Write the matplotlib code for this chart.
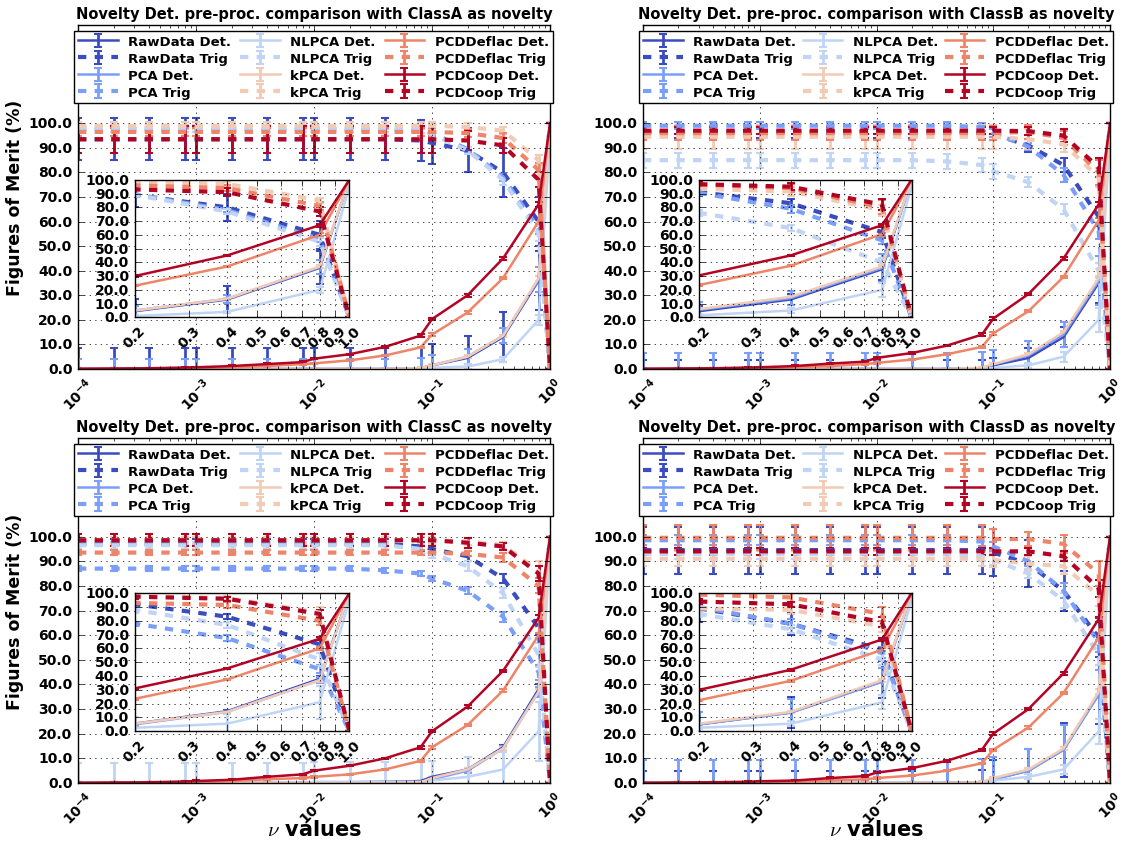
import matplotlib

matplotlib.use("Agg")
import matplotlib.pyplot as plt
import numpy as np
from matplotlib.ticker import FormatStrFormatter, NullLocator

# nu values (x axis)
NU = [1e-4, 2e-4, 4e-4, 8e-4, 1e-3, 2e-3, 4e-3, 8e-3, 1e-2, 2e-2, 4e-2, 8e-2, 0.1, 0.2, 0.4, 0.8, 1.0]
METHODS = ["RawData", "PCA", "NLPCA", "kPCA", "PCDDeflac", "PCDCoop"]
CLASSES = ["ClassA", "ClassB", "ClassC", "ClassD"]
INSET_TICKS = [0.2, 0.3, 0.4, 0.5, 0.6, 0.7, 0.8, 0.9, 1.0]

# ---- ClassA ----
a_raw_det = [0, 0, 0, 0, 0, 0, 0, 0, 0, 0, 0, 0.3, 1.5, 4.5, 13, 36, 100]
a_raw_det_err = [8.5, 8.5, 8.5, 8.5, 8.5, 8.5, 8.5, 8.5, 8.5, 8.5, 8.5, 8.5, 8.5, 9, 10, 12, 0]
a_pca_det = [0, 0, 0, 0, 0, 0, 0, 0, 0, 0, 0, 0.3, 1.5, 5, 13.5, 36.5, 100]
a_pca_det_err = [4, 4, 4, 4, 4, 4, 4, 4, 4, 4, 4, 4, 4, 3, 3, 5, 0]
a_nlpca_det = [0, 0, 0, 0, 0, 0, 0, 0, 0, 0, 0, 0, 0.5, 1, 4, 20, 95]
a_nlpca_det_err = [0, 0, 0, 0, 0, 0, 0, 0, 0, 0, 0, 0, 0, 1, 1, 2, 0]
a_kpca_det = [0, 0, 0, 0, 0, 0, 0, 0, 0, 0, 0, 0.3, 1.5, 5, 13.5, 37, 100]
a_kpca_det_err = [0.5, 0.5, 0.5, 0.5, 0.5, 0.5, 0.5, 0.5, 0.5, 0.5, 0.5, 0.5, 0.5, 0.5, 0.5, 1, 0]
a_deflac_det = [0, 0, 0, 0, 0.3, 0.7, 1.2, 2.0, 2.3, 3.5, 5.5, 8.8, 14, 23, 37, 60, 100]
a_deflac_det_err = [0.3, 0.3, 0.3, 0.3, 0.3, 0.3, 0.3, 0.3, 0.3, 0.3, 0.3, 0.3, 0.5, 0.5, 0.5, 1, 0]
a_coop_det = [0.1, 0.2, 0.3, 0.6, 0.7, 1.2, 2.0, 2.8, 4.2, 6.0, 9.0, 13.6, 20.3, 30, 45, 67, 100]
a_coop_det_err = [0.3, 0.3, 0.3, 0.3, 0.3, 0.3, 0.3, 0.3, 0.3, 0.3, 0.3, 0.5, 0.5, 0.5, 0.5, 1, 0]

a_raw_trig = [93.5, 93.5, 93.5, 93.5, 93.5, 93.5, 93.5, 93.5, 93.5, 93.5, 93.5, 93, 92, 89, 80, 60, 0]
a_raw_trig_err = [8.5, 8.5, 8.5, 8.5, 8.5, 8.5, 8.5, 8.5, 8.5, 8.5, 8.5, 8.5, 8.5, 9, 10, 10, 0]
a_pca_trig = [97.5, 97.5, 97.5, 97.5, 97.5, 97.5, 97.5, 97.5, 97.5, 97.5, 97.5, 97, 96, 89.5, 78, 57, 0]
a_pca_trig_err = [1, 1, 1, 1, 1, 1, 1, 1, 1, 1, 1, 1, 1, 1, 1.5, 2, 0]
a_nlpca_trig = [98, 98, 98, 98, 98, 98, 98, 98, 98, 98, 98, 97.5, 95.5, 89, 77, 55, 0]
a_nlpca_trig_err = [1.5, 1.5, 1.5, 1.5, 1.5, 1.5, 1.5, 1.5, 1.5, 1.5, 1.5, 1.5, 1.5, 1.5, 2, 3, 0]
a_kpca_trig = [99, 99, 99, 99, 99, 99, 99, 99, 99, 99, 99, 99, 99, 98.5, 97, 85, 0]
a_kpca_trig_err = [1.5, 1.5, 1.5, 1.5, 1.5, 1.5, 1.5, 1.5, 1.5, 1.5, 1.5, 1.5, 1.5, 1.5, 1.5, 2, 0]
a_deflac_trig = [96.5, 96.5, 96.5, 96.5, 96.5, 96.5, 96.5, 96.5, 96.5, 96.5, 96.5, 96.5, 96.5, 96, 94, 81, 0]
a_deflac_trig_err = [1.5, 1.5, 1.5, 1.5, 1.5, 1.5, 1.5, 1.5, 1.5, 1.5, 1.5, 1.5, 1.5, 1.5, 2, 3, 0]
a_coop_trig = [93.5, 93.5, 93.5, 93.5, 93.5, 93.5, 93.5, 93.5, 93.5, 93.5, 93.5, 93.5, 93.5, 93, 91, 77, 0]
a_coop_trig_err = [5.5, 5.5, 5.5, 5.5, 5.5, 5.5, 5.5, 5.5, 5.5, 5.5, 5.5, 5.5, 5.5, 4, 3, 3, 0]

# ---- ClassB ----
b_raw_det = [0, 0, 0, 0, 0, 0, 0, 0, 0, 0, 0, 0.3, 1.5, 4.5, 13, 35, 100]
b_raw_det_err = [3.5, 3.5, 3.5, 3.5, 3.5, 3.5, 3.5, 3.5, 3.5, 3.5, 3.5, 3.5, 3, 4, 4, 8, 0]
b_pca_det = [0, 0, 0, 0, 0, 0, 0, 0, 0, 0, 0, 0.3, 1.8, 5.5, 14, 36, 100]
b_pca_det_err = [6.5, 6.5, 6.5, 6.5, 6.5, 6.5, 6.5, 6.5, 6.5, 6.5, 6.5, 6.5, 6, 6, 5, 10, 0]
b_nlpca_det = [0, 0, 0, 0, 0, 0, 0, 0, 0, 0, 0, 0, 0.5, 1.5, 5, 20, 95]
b_nlpca_det_err = [0, 0, 0, 0, 0, 0, 0, 0, 0, 0, 0, 0, 0, 1, 2, 5, 0]
b_kpca_det = [0, 0, 0, 0, 0, 0, 0, 0, 0, 0, 0, 0.5, 2, 6, 15, 37, 100]
b_kpca_det_err = [0.5, 0.5, 0.5, 0.5, 0.5, 0.5, 0.5, 0.5, 0.5, 0.5, 0.5, 0.5, 0.5, 0.5, 0.5, 1, 0]
b_deflac_det = [0, 0, 0, 0, 0.3, 0.7, 1.2, 2.0, 2.5, 3.8, 6, 9, 14.5, 23.5, 37.5, 60.5, 100]
b_deflac_det_err = [0.3, 0.3, 0.3, 0.3, 0.3, 0.3, 0.3, 0.3, 0.3, 0.3, 0.3, 0.3, 0.5, 0.5, 0.5, 1, 0]
b_coop_det = [0.1, 0.2, 0.3, 0.6, 0.7, 1.2, 2.2, 3.0, 4.5, 6.5, 9.5, 14, 20.5, 30.5, 45, 67, 100]
b_coop_det_err = [0.3, 0.3, 0.3, 0.3, 0.3, 0.3, 0.3, 0.3, 0.3, 0.3, 0.3, 0.5, 0.5, 0.5, 0.5, 1, 0]

b_raw_trig = [96.5, 96.5, 96.5, 96.5, 96.5, 96.5, 96.5, 96.5, 96.5, 96.5, 96.5, 96, 95.5, 91, 83, 62, 0]
b_raw_trig_err = [2.5, 2.5, 2.5, 2.5, 2.5, 2.5, 2.5, 2.5, 2.5, 2.5, 2.5, 2.5, 2.5, 2.5, 3, 4, 0]
b_pca_trig = [99, 99, 99, 99, 99, 99, 99, 99, 99, 99, 99, 98.5, 96, 90.5, 79, 56, 0]
b_pca_trig_err = [1.5, 1.5, 1.5, 1.5, 1.5, 1.5, 1.5, 1.5, 1.5, 1.5, 1.5, 1.5, 1.5, 1.5, 3, 3, 0]
b_nlpca_trig = [85, 85, 85, 85, 85, 85, 85, 85, 85, 85, 84.5, 83, 80.5, 76, 65, 40, 0]
b_nlpca_trig_err = [3, 3, 3, 3, 3, 3, 3, 3, 3, 3, 3, 3, 3, 2, 2, 3, 0]
b_kpca_trig = [94.5, 94.5, 94.5, 94.5, 94.5, 94.5, 94.5, 94.5, 94.5, 94.5, 94.5, 94.5, 94.5, 93.5, 91.5, 78, 0]
b_kpca_trig_err = [5, 5, 5, 5, 5, 5, 5, 5, 5, 5, 5, 5, 5, 4, 3, 4, 0]
b_deflac_trig = [96, 96, 96, 96, 96, 96, 96, 96, 96, 96, 96, 96, 96, 96.5, 94, 80, 0]
b_deflac_trig_err = [3, 3, 3, 3, 3, 3, 3, 3, 3, 3, 3, 3, 3, 3, 3, 5, 0]
b_coop_trig = [97, 97, 97, 97, 97, 97, 97, 97, 97, 97, 97, 97, 97, 96.8, 95, 82, 0]
b_coop_trig_err = [1.5, 1.5, 1.5, 1.5, 1.5, 1.5, 1.5, 1.5, 1.5, 1.5, 1.5, 1.5, 1.5, 1.5, 2.5, 4, 0]

# ---- ClassC ----
c_raw_det = [0, 0, 0, 0, 0, 0, 0, 0, 0, 0.3, 0.5, 0.8, 2.5, 5.5, 14.5, 38, 100]
c_raw_det_err = [0, 0, 0, 0, 0, 0, 0, 0, 0, 0, 0, 0, 0, 0, 1, 2, 0]
c_pca_det = [0, 0, 0, 0, 0, 0, 0, 0, 0, 0, 0, 0.3, 1.5, 5, 14, 37, 100]
c_pca_det_err = [0, 0, 0, 0, 0, 0, 0, 0, 0, 0, 0, 0, 0, 1, 1, 2, 0]
c_nlpca_det = [0, 0, 0, 0, 0, 0, 0, 0, 0.5, 0.5, 0.5, 0.5, 1, 2.5, 5.5, 21, 95]
c_nlpca_det_err = [8, 8, 8, 8, 8, 8, 8, 8, 8, 8, 8, 8, 8, 8, 7, 12, 0]
c_kpca_det = [0, 0, 0, 0, 0, 0, 0, 0, 0, 0, 0, 0.3, 2, 5.5, 14, 37, 100]
c_kpca_det_err = [0.5, 0.5, 0.5, 0.5, 0.5, 0.5, 0.5, 0.5, 0.5, 0.5, 0.5, 0.5, 0.5, 0.5, 0.5, 1, 0]
c_deflac_det = [0, 0, 0, 0, 0.3, 0.8, 1.5, 2.0, 2.5, 3.5, 5.5, 9, 14.5, 23.5, 37.5, 60, 100]
c_deflac_det_err = [0.3, 0.3, 0.3, 0.3, 0.3, 0.3, 0.3, 0.3, 0.3, 0.3, 0.3, 0.3, 0.5, 0.5, 0.5, 1, 0]
c_coop_det = [0.1, 0.2, 0.3, 0.6, 0.8, 1.3, 2.5, 3.5, 5, 7, 10, 14.5, 21, 31, 45.5, 67, 100]
c_coop_det_err = [0.3, 0.3, 0.3, 0.3, 0.3, 0.3, 0.3, 0.3, 0.3, 0.3, 0.3, 0.5, 0.5, 0.5, 0.5, 1, 0]

c_raw_trig = [97, 97, 97, 97, 97, 97, 97, 97, 97, 97, 97, 96, 95, 92, 83, 63, 0]
c_raw_trig_err = [2, 2, 2, 2, 2, 2, 2, 2, 2, 2, 2, 2, 2, 2, 2, 3, 0]
c_pca_trig = [87, 87, 87, 87, 87, 87, 87, 87, 87, 87, 86.3, 85, 83, 78, 67.5, 45, 0]
c_pca_trig_err = [1, 1, 1, 1, 1, 1, 1, 1, 1, 1, 1, 1, 1, 1.5, 2, 3, 0]
c_nlpca_trig = [96.5, 96.5, 96.5, 96.5, 96.5, 96.5, 96.5, 96.5, 96.5, 96.5, 96.5, 95, 93, 88, 77, 52, 0]
c_nlpca_trig_err = [1.5, 1.5, 1.5, 1.5, 1.5, 1.5, 1.5, 1.5, 1.5, 1.5, 1.5, 1.5, 1.5, 2, 2, 5, 0]
c_kpca_trig = [98.5, 98.5, 98.5, 98.5, 98.5, 98.5, 98.5, 98.5, 98.5, 98.5, 98.5, 98.5, 98.5, 98, 96.5, 86, 0]
c_kpca_trig_err = [1.5, 1.5, 1.5, 1.5, 1.5, 1.5, 1.5, 1.5, 1.5, 1.5, 1.5, 1.5, 1.5, 1.5, 1.5, 4, 0]
c_deflac_trig = [93.5, 93.5, 93.5, 93.5, 93.5, 93.5, 93.5, 93.5, 93.5, 93.5, 93.5, 93.5, 93.5, 93, 91.5, 80, 0]
c_deflac_trig_err = [1, 1, 1, 1, 1, 1, 1, 1, 1, 1, 1, 1, 1, 1, 2, 3, 0]
c_coop_trig = [98.5, 98.5, 98.5, 98.5, 98.5, 98.5, 98.5, 98.5, 98.5, 98.5, 98.5, 98.5, 98.5, 97.5, 96, 85, 0]
c_coop_trig_err = [2.5, 2.5, 2.5, 2.5, 2.5, 2.5, 2.5, 2.5, 2.5, 2.5, 2.5, 2.5, 2.5, 2, 1.5, 3, 0]

# ---- ClassD ----
d_raw_det = [0, 0, 0, 0, 0, 0, 0, 0, 0, 0, 0, 0.3, 1.5, 5, 13.5, 36, 100]
d_raw_det_err = [5, 5, 5, 5, 5, 5, 5, 5, 5, 5, 5, 5, 8, 9, 11, 12, 0]
d_pca_det = [0, 0, 0, 0, 0, 0, 0, 0, 0, 0, 0, 0.3, 1.5, 5, 13.5, 36, 100]
d_pca_det_err = [9.5, 9.5, 9.5, 9.5, 9.5, 9.5, 9.5, 9.5, 9.5, 9.5, 9.5, 9.5, 9, 9, 10, 10, 0]
d_nlpca_det = [0, 0, 0, 0, 0, 0, 0, 0, 0, 0, 0, 0, 1, 2.5, 5.5, 21, 95]
d_nlpca_det_err = [0, 0, 0, 0, 0, 0, 0, 0, 0, 0, 0, 0, 0, 1, 2, 5, 0]
d_kpca_det = [0, 0, 0, 0, 0, 0, 0, 0, 0, 0, 0, 0.3, 2, 5.5, 14, 37, 100]
d_kpca_det_err = [0.5, 0.5, 0.5, 0.5, 0.5, 0.5, 0.5, 0.5, 0.5, 0.5, 0.5, 0.5, 0.5, 0.5, 0.5, 1, 0]
d_deflac_det = [0, 0, 0, 0, 0.2, 0.5, 1.0, 1.5, 2, 3, 5, 8, 13.5, 22.5, 36.5, 59, 100]
d_deflac_det_err = [0.3, 0.3, 0.3, 0.3, 0.3, 0.3, 0.3, 0.3, 0.3, 0.3, 0.3, 0.3, 0.5, 0.5, 0.5, 1, 0]
d_coop_det = [0.1, 0.2, 0.3, 0.5, 0.7, 1.0, 2.0, 2.8, 4.2, 6.0, 9.0, 13.5, 20, 30, 44.5, 66.5, 100]
d_coop_det_err = [0.3, 0.3, 0.3, 0.3, 0.3, 0.3, 0.3, 0.3, 0.3, 0.3, 0.3, 0.5, 0.5, 0.5, 0.5, 1, 0]

d_raw_trig = [94.5, 94.5, 94.5, 94.5, 94.5, 94.5, 94.5, 94.5, 94.5, 94.5, 94.5, 94.5, 93.5, 89, 78, 59, 0]
d_raw_trig_err = [9.5, 9.5, 9.5, 9.5, 9.5, 9.5, 9.5, 9.5, 9.5, 9.5, 9.5, 9.5, 9.5, 9.5, 8, 8, 0]
d_pca_trig = [98.5, 98.5, 98.5, 98.5, 98.5, 98.5, 98.5, 98.5, 98.5, 98.5, 98.5, 98, 96, 90, 78, 57, 0]
d_pca_trig_err = [2, 2, 2, 2, 2, 2, 2, 2, 2, 2, 2, 2, 2, 2, 3, 4, 0]
d_nlpca_trig = [93, 93, 93, 93, 93, 93, 93, 93, 93, 93, 93, 92, 90.5, 85, 74, 52, 0]
d_nlpca_trig_err = [2, 2, 2, 2, 2, 2, 2, 2, 2, 2, 2, 2, 2, 2, 3, 4, 0]
d_kpca_trig = [91, 91, 91, 91, 91, 91, 91, 91, 91, 91, 91, 91, 90.5, 89, 88, 76, 0]
d_kpca_trig_err = [3, 3, 3, 3, 3, 3, 3, 3, 3, 3, 3, 3, 3, 3, 3, 4, 0]
d_deflac_trig = [99.5, 99.5, 99.5, 99.5, 99.5, 99.5, 99.5, 99.5, 99.5, 99.5, 99.5, 99.5, 99, 99, 97, 85, 0]
d_deflac_trig_err = [5, 5, 5, 5, 5, 5, 5, 5, 5, 5, 5, 5, 4, 3, 3.5, 5, 0]
d_coop_trig = [94, 94, 94, 94, 94, 94, 94, 94, 94, 94, 94, 94, 94, 94, 92, 79, 0]
d_coop_trig_err = [1.5, 1.5, 1.5, 1.5, 1.5, 1.5, 1.5, 1.5, 1.5, 1.5, 1.5, 1.5, 1.5, 1.5, 2, 3.5, 0]

PANELS = [
    ([a_raw_det, a_pca_det, a_nlpca_det, a_kpca_det, a_deflac_det, a_coop_det],
     [a_raw_det_err, a_pca_det_err, a_nlpca_det_err, a_kpca_det_err, a_deflac_det_err, a_coop_det_err],
     [a_raw_trig, a_pca_trig, a_nlpca_trig, a_kpca_trig, a_deflac_trig, a_coop_trig],
     [a_raw_trig_err, a_pca_trig_err, a_nlpca_trig_err, a_kpca_trig_err, a_deflac_trig_err, a_coop_trig_err]),
    ([b_raw_det, b_pca_det, b_nlpca_det, b_kpca_det, b_deflac_det, b_coop_det],
     [b_raw_det_err, b_pca_det_err, b_nlpca_det_err, b_kpca_det_err, b_deflac_det_err, b_coop_det_err],
     [b_raw_trig, b_pca_trig, b_nlpca_trig, b_kpca_trig, b_deflac_trig, b_coop_trig],
     [b_raw_trig_err, b_pca_trig_err, b_nlpca_trig_err, b_kpca_trig_err, b_deflac_trig_err, b_coop_trig_err]),
    ([c_raw_det, c_pca_det, c_nlpca_det, c_kpca_det, c_deflac_det, c_coop_det],
     [c_raw_det_err, c_pca_det_err, c_nlpca_det_err, c_kpca_det_err, c_deflac_det_err, c_coop_det_err],
     [c_raw_trig, c_pca_trig, c_nlpca_trig, c_kpca_trig, c_deflac_trig, c_coop_trig],
     [c_raw_trig_err, c_pca_trig_err, c_nlpca_trig_err, c_kpca_trig_err, c_deflac_trig_err, c_coop_trig_err]),
    ([d_raw_det, d_pca_det, d_nlpca_det, d_kpca_det, d_deflac_det, d_coop_det],
     [d_raw_det_err, d_pca_det_err, d_nlpca_det_err, d_kpca_det_err, d_deflac_det_err, d_coop_det_err],
     [d_raw_trig, d_pca_trig, d_nlpca_trig, d_kpca_trig, d_deflac_trig, d_coop_trig],
     [d_raw_trig_err, d_pca_trig_err, d_nlpca_trig_err, d_kpca_trig_err, d_deflac_trig_err, d_coop_trig_err]),
]

plt.style.use("classic")
plt.rcParams.update({
    "font.family": "DejaVu Sans",
    "font.weight": "bold",
    "axes.labelweight": "bold",
    "figure.facecolor": "white",
    "savefig.facecolor": "white",
    "legend.numpoints": 1,
})

COLORS = [plt.cm.coolwarm(v) for v in np.linspace(0, 1, len(METHODS))]
W, H = 1126, 845

# axes boxes in pixels: left, right, top, bottom
BOXES = [(78, 550, 26, 370), (643, 1110, 26, 370), (78, 550, 439, 784), (643, 1110, 439, 784)]


def draw_series(ax, det, det_err, trig, trig_err):
    for i, m in enumerate(METHODS):
        c = COLORS[i]
        ax.errorbar(NU, det[i], yerr=det_err[i], color=c, ecolor=c, lw=1.8,
                    elinewidth=2, capsize=3, capthick=1.5, label=f"{m} Det.")
        ax.errorbar(NU, trig[i], yerr=trig_err[i], color=c, ecolor=c, lw=3, ls="--",
                    elinewidth=2, capsize=3, capthick=1.5, label=f"{m} Trig")


fig = plt.figure(figsize=(W / 100, H / 100), dpi=100)

for k, (cls, (det, det_err, trig, trig_err)) in enumerate(zip(CLASSES, PANELS)):
    l, r, t, b = BOXES[k]
    ax = fig.add_axes([l / W, 1 - b / H, (r - l) / W, (b - t) / H])
    draw_series(ax, det, det_err, trig, trig_err)
    ax.set_xscale("log")
    ax.set_xlim(1e-4, 1)
    ax.set_ylim(0, 140)
    ax.set_yticks(np.arange(0, 101, 10))
    ax.yaxis.set_major_formatter(FormatStrFormatter("%.1f"))
    ax.tick_params(axis="both", labelsize=10)
    ax.tick_params(axis="x", labelrotation=45)
    ax.grid(True)
    ax.set_title(f"Novelty Det. pre-proc. comparison with {cls} as novelty",
                 fontsize=10.5, fontweight="bold")
    if k % 2 == 0:
        ax.set_ylabel("Figures of Merit (%)", fontsize=12.5)
        ax.yaxis.set_label_coords(-0.115, 0.5)
    if k >= 2:
        ax.set_xlabel(r"$\nu$ values", fontsize=15)
        ax.xaxis.set_label_coords(0.5, -0.105)
    ax.legend(loc="upper center", ncol=3, mode="expand", fontsize=9.5,
              bbox_to_anchor=(-0.008, 0, 1.014, 0.983), borderaxespad=0,
              handlelength=3, labelspacing=0.3, borderpad=0.3, frameon=True)

    ins = ax.inset_axes([0.12, 0.15, 0.455, 0.40])
    draw_series(ins, det, det_err, trig, trig_err)
    ins.set_xscale("log")
    ins.set_xlim(0.2, 1.0)
    ins.set_ylim(0, 100)
    ins.set_xticks(INSET_TICKS)
    ins.set_xticklabels([f"{v:.1f}" for v in INSET_TICKS])
    ins.xaxis.set_minor_locator(NullLocator())
    ins.set_yticks(np.arange(0, 101, 10))
    ins.yaxis.set_major_formatter(FormatStrFormatter("%.1f"))
    ins.tick_params(axis="both", labelsize=10)
    ins.tick_params(axis="x", labelrotation=45)
    ins.grid(True)

fig.savefig("out.png", dpi=100)
